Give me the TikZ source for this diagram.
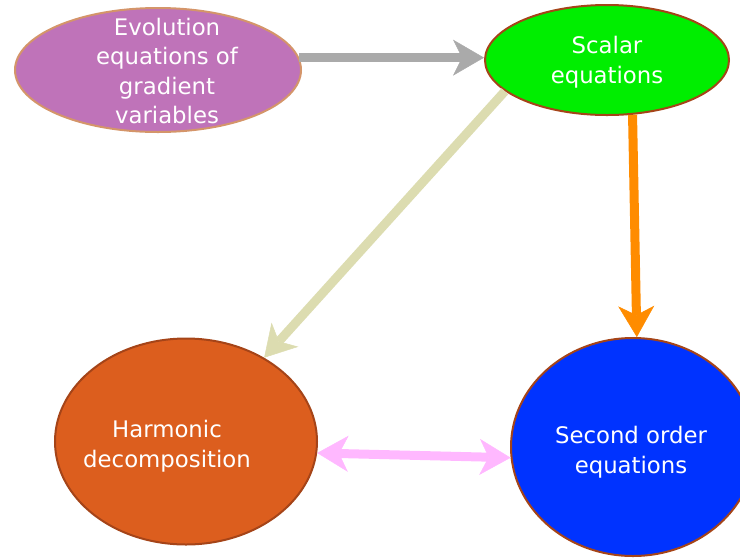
\documentclass[tikz,border=0pt]{standalone}
\usepackage{fontspec}
\setmainfont{DejaVu Sans}
\usetikzlibrary{shapes.geometric,arrows.meta}
\definecolor{evofill}{RGB}{191,115,185}
\definecolor{evoedge}{RGB}{212,149,106}
\definecolor{scfill}{RGB}{0,238,0}
\definecolor{harmfill}{RGB}{220,94,30}
\definecolor{bluefill}{RGB}{0,51,255}
\definecolor{nodeedge}{RGB}{165,68,24}
\definecolor{grayarr}{RGB}{170,170,170}
\definecolor{olivearr}{RGB}{220,220,176}
\definecolor{orangearr}{RGB}{255,140,0}
\definecolor{pinkarr}{RGB}{255,184,255}
\tikzset{
  blob/.style={ellipse, draw=nodeedge, line width=2pt, inner sep=0pt},
  lbl/.style={text=white, align=center, font=\fontsize{22.8}{29.5}\selectfont, inner sep=0pt},
  tipshape/.tip={Stealth[length=31pt,width=36pt,inset=9pt,line width=0.5pt]},
  conn/.style={line width=9pt, -tipshape},
  conn2/.style={line width=9pt, tipshape-tipshape}
}
\begin{document}
\begin{tikzpicture}[x=1pt,y=-1pt]
\useasboundingbox (0,0) rectangle (740,558);
\node[blob, fill=evofill, draw=evoedge, minimum width=286pt, minimum height=124pt] (evo) at (158,70) {};
\node[blob, fill=scfill, minimum width=244pt, minimum height=110pt] (scalar) at (607,60) {};
\node[blob, fill=harmfill, minimum width=262pt, minimum height=206pt] (harm) at (186,441.5) {};
\node[blob, fill=bluefill, minimum width=244pt, minimum height=218pt] (second) at (633,447) {};
\node[lbl] (evot) at (167,71) {Evolution\\equations of\\gradient\\variables};
\node[lbl] (scalart) at (607,62) {Scalar\\equations};
\node[lbl] (harmt) at (167,446) {Harmonic\\decomposition};
\node[lbl] (secondt) at (631,452) {Second order\\equations};
\draw[conn, grayarr] (evo.5) -- (evo.5 -| scalar.west);
\draw[conn, olivearr] (scalar.197) -- (harm.47);
\draw[conn, orangearr] (scalar.-65) -- (second.88);
\draw[conn2, pinkarr] (harm.-5) -- (second.185);
\end{tikzpicture}
\end{document}
